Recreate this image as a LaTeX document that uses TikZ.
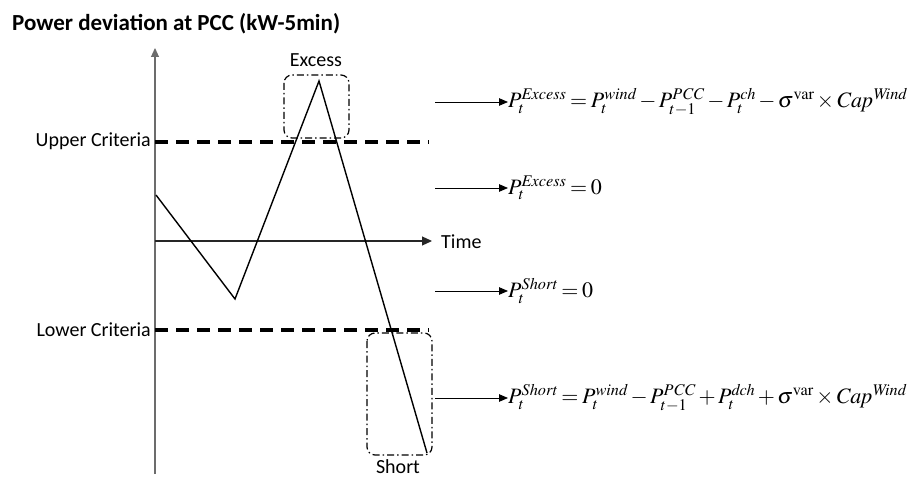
\documentclass[tikz,border=0pt]{standalone}
\usepackage{fontspec}
\usepackage{mathptmx}
\setmainfont{Carlito}
\usetikzlibrary{arrows.meta}
\newcommand{\tightmath}{\thickmuskip=3mu\relax\medmuskip=2mu\relax}
\tikzset{
  lbl/.style={font=\fontsize{20}{22}\selectfont, inner sep=0pt},
  frm/.style={font=\fontsize{22}{24}\selectfont\tightmath, inner sep=0pt, anchor=west},
  crit/.style={line width=3.4pt, dash pattern=on 13pt off 8pt},
  zone/.style={line width=1.2pt, black, dash pattern=on 7pt off 3pt on 1.5pt off 3pt, rounded corners=8pt},
  farrow/.style={-{Triangle[length=9pt,width=7.5pt]}, line width=0.8pt},
  sig/.style={line width=1.4pt, line join=miter}
}
\begin{document}
\begin{tikzpicture}[x=1pt,y=-1pt]
\useasboundingbox (0,0) rectangle (912,478);
% title
\node[font=\fontsize{23}{25}\selectfont\bfseries, anchor=base west, inner sep=0pt] (title) at (12,31) {Power deviation at PCC (kW-5min)};
% axes
\coordinate (o) at (155,241);
\coordinate (ytop) at (155,48);
\coordinate (ybot) at (155,474);
\coordinate (xend) at (432,241);
\draw[line width=1.1pt, gray!85!black, -{Triangle[length=9pt,width=8pt]}] (ybot) -- (ytop);
\draw[line width=1.1pt, black!85, -{Triangle[length=10pt,width=9pt]}] (o) -- (xend);
\node[lbl, anchor=west] (time) at (441,242) {Time};
% criteria
\coordinate (u0) at (155,142); \coordinate (u1) at (429,142);
\coordinate (l0) at (155,330); \coordinate (l1) at (429,330);
\draw[crit] (u0) -- (u1);
\draw[crit] (l0) -- (l1);
\node[lbl, anchor=east] (upper) at (151,141) {Upper Criteria};
\node[lbl, anchor=east] (lower) at (151,330) {Lower Criteria};
% signal
\coordinate (s0) at (156,195);
\coordinate (s1) at (235,299);
\coordinate (s2) at (319,81);
\coordinate (s3) at (427,453);
\draw[sig] (s0) -- (s1) -- (s2) -- (s3);
% zones
\draw[zone] (284,75) rectangle (349,138);
\node[lbl] (excess) at (316,60) {Excess};
\draw[zone] (367,333) rectangle (432,455);
\node[lbl] (short) at (398,467) {Short};
% formulas
\node[frm] (f1) at (508,102) {$P_t^{\mathit{Excess}} = P_t^{\mathit{wind}} - P_{t-1}^{\mathit{PCC}} - P_t^{\mathit{ch}} - \sigma^{\mathrm{var}} \times \mathit{Cap}^{\mathit{Wind}}$};
\node[frm] (f2) at (508,188) {$P_t^{\mathit{Excess}} = 0$};
\node[frm] (f3) at (508,291) {$P_t^{\mathit{Short}} = 0$};
\node[frm] (f4) at (508,398) {$P_t^{\mathit{Short}} = P_t^{\mathit{wind}} - P_{t-1}^{\mathit{PCC}} + P_t^{\mathit{dch}} + \sigma^{\mathrm{var}} \times \mathit{Cap}^{\mathit{Wind}}$};
\coordinate (a1) at (435,102);
\coordinate (a2) at (435,188);
\coordinate (a3) at (435,291);
\coordinate (a4) at (435,398);
\draw[farrow] (a1) -- (f1.west);
\draw[farrow] (a2) -- (f2.west);
\draw[farrow] (a3) -- (f3.west);
\draw[farrow] (a4) -- (f4.west);
\end{tikzpicture}
\end{document}
